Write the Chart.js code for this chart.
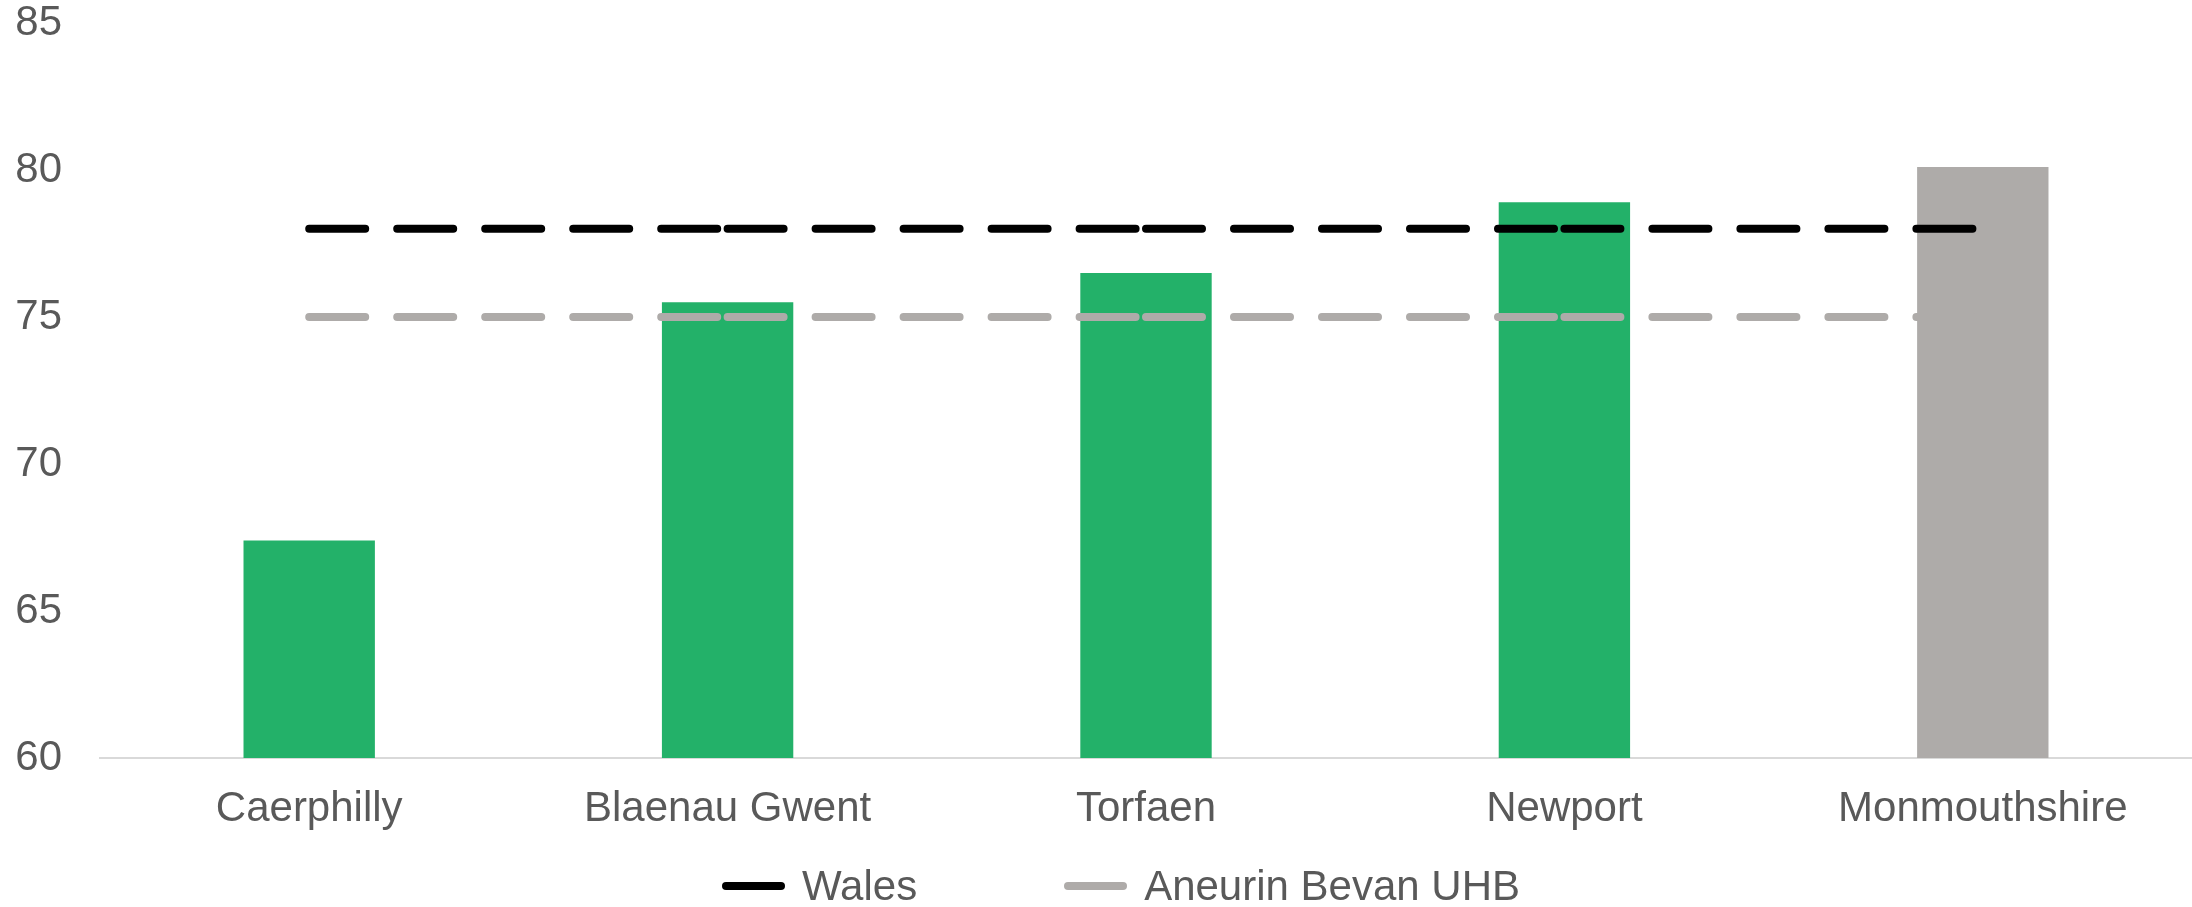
<!DOCTYPE html>
<html>
<head>
<meta charset="utf-8">
<title>Aneurin Bevan UHB local authorities</title>
<script src="https://cdn.jsdelivr.net/npm/chart.js@4/dist/chart.umd.min.js"></script>
<style>
  html, body { margin: 0; padding: 0; background: #fff; }
  .wrap { position: relative; width: 2192px; height: 907px; }
  #chart { position: absolute; left: 0; top: 0; }
  .legend {
    position: absolute; left: 722px; top: 861px; height: 50px;
    display: flex; align-items: center;
    font-family: "Liberation Sans", Arial, sans-serif; font-size: 42px; color: #595959;
  }
  .legend-item { display: flex; align-items: center; margin-right: 147px; }
  .legend-item:last-child { margin-right: 0; }
  .swatch { width: 63px; height: 8px; border-radius: 4px; margin-right: 17px; }
</style>
</head>
<body>
<div class="wrap">
  <canvas id="chart" width="2192" height="907"></canvas>
  <div class="legend">
    <div class="legend-item"><span class="swatch" style="background:#000000"></span>Wales</div>
    <div class="legend-item"><span class="swatch" style="background:#aeaba9"></span>Aneurin Bevan UHB</div>
  </div>
</div>
<script>
// Local authority values with the Wales and health board averages
const areas = ['Caerphilly', 'Blaenau Gwent', 'Torfaen', 'Newport', 'Monmouthshire'];
const areaValues = [67.4, 75.5, 76.5, 78.9, 80.1];
const walesValues = [78, 78, 78, 78, 78];
const healthBoardValues = [75, 75, 75, 75, 75];
const yTicks = [60, 65, 70, 75, 80, 85];

const GREEN = '#23b169';
const GREY = '#aeaba9';
const TEXT = '#595959';
const FONT = "'Liberation Sans', Arial, sans-serif";

// Monmouthshire is shown in grey, the rest in green
const barColours = areas.map((a, i) => i === areas.length - 1 ? GREY : GREEN);

// restart the dash pattern at every category, one segment per path
const DASH = [56, 32];
const segmentDash = {
  borderDashOffset: ctx => ctx.p0DataIndex * (DASH[0] + DASH[1])
};

function averageLine(label, data, colour) {
  return {
    type: 'line',
    label: label,
    data: data,
    borderColor: colour,
    backgroundColor: colour,
    borderWidth: 8,
    borderDash: DASH,
    borderCapStyle: 'round',
    pointRadius: 0,
    pointHoverRadius: 0,
    fill: false,
    order: 0,
    segment: segmentDash
  };
}

new Chart(document.getElementById('chart'), {
  type: 'bar',
  data: {
    labels: areas,
    datasets: [
      averageLine('Wales', walesValues, '#000000'),
      averageLine('Aneurin Bevan UHB', healthBoardValues, GREY),
      {
        label: 'Area',
        data: areaValues,
        backgroundColor: barColours,
        borderWidth: 0,
        categoryPercentage: 1,
        barPercentage: 0.314,
        order: 1
      }
    ]
  },
  options: {
    responsive: false,
    animation: false,
    layout: { padding: { top: 23, right: -3, bottom: 69, left: 0 } },
    plugins: {
      legend: { display: false },
      tooltip: { enabled: false }
    },
    scales: {
      x: {
        grid: { display: false, drawTicks: false },
        border: { display: true, color: '#d9d9d9', width: 2 },
        ticks: {
          color: TEXT,
          padding: 26,
          font: { family: FONT, size: 42 }
        },
        afterFit: scale => { scale.height = 80; }
      },
      y: {
        min: yTicks[0],
        max: yTicks[yTicks.length - 1],
        grid: { display: false, drawTicks: false },
        border: { display: false },
        afterBuildTicks: scale => { scale.ticks = yTicks.map(v => ({ value: v })); },
        ticks: {
          color: TEXT,
          padding: 38,
          font: { family: FONT, size: 42, lineHeight: 1 }
        },
        afterFit: scale => {
          // fixed axis width; the tick padding should not push the plot down
          scale.width = 100;
          scale.paddingTop = 0;
          scale.paddingBottom = 0;
        }
      }
    }
  }
});
</script>
</body>
</html>
